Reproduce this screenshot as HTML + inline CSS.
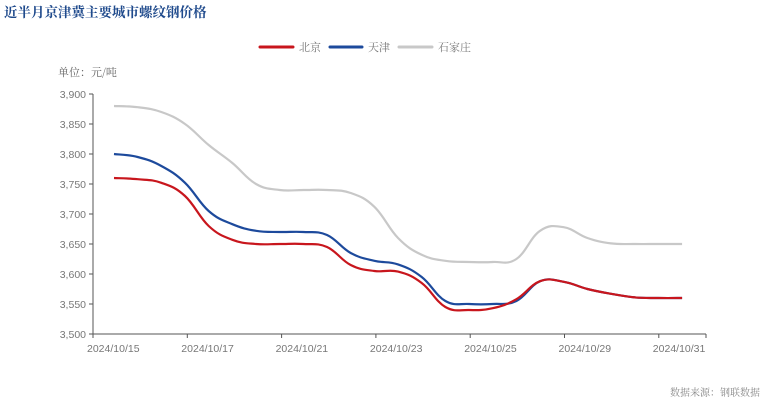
<!DOCTYPE html>
<html><head><meta charset="utf-8"><style>
html,body{margin:0;padding:0;background:#fff;}
svg{display:block;font-family:"Liberation Sans","Noto Serif CJK SC","Noto Sans CJK SC",sans-serif;}
</style></head><body>
<svg id="c" width="764" height="400" xmlns="http://www.w3.org/2000/svg">
<text x="4" y="17" font-size="13.5" font-weight="bold" fill="#1f4a8c" font-family="'Noto Serif CJK SC','Noto Sans CJK SC',serif">近半月京津冀主要城市螺纹钢价格</text>
<line x1="260" y1="47" x2="293" y2="47" stroke="#c8161d" stroke-width="3" stroke-linecap="round"/>
<text x="299" y="51" font-size="11" fill="#777" font-family="'Noto Serif CJK SC',serif">北京</text>
<line x1="330" y1="47" x2="362" y2="47" stroke="#1d4a9c" stroke-width="3" stroke-linecap="round"/>
<text x="368" y="51" font-size="11" fill="#777" font-family="'Noto Serif CJK SC',serif">天津</text>
<line x1="399" y1="47" x2="432" y2="47" stroke="#c8c8c8" stroke-width="3" stroke-linecap="round"/>
<text x="438" y="51" font-size="11" fill="#777" font-family="'Noto Serif CJK SC',serif">石家庄</text>
<text x="58" y="76" font-size="11" fill="#666" font-family="'Noto Serif CJK SC',serif">单位：元/吨</text>
<text x="760" y="396" font-size="10" fill="#888" text-anchor="end" font-family="'Noto Serif CJK SC',serif">数据来源：钢联数据</text>
<g id="ax"></g>
<g id="ln"></g>
</svg>
<script>
var ax=document.getElementById('ax'),ln=document.getElementById('ln'),NS='http://www.w3.org/2000/svg';
function el(t,a,txt){var e=document.createElementNS(NS,t);for(var k in a)e.setAttribute(k,a[k]);if(txt)e.textContent=txt;return e;}
function Y(v){return 334-(v-3500)*0.6;}
for(var v=3500;v<=3900;v+=50){var y=Y(v);
ax.appendChild(el('line',{x1:89,y1:y,x2:93,y2:y,stroke:'#555','stroke-width':1}));
ax.appendChild(el('text',{x:86,y:y+4,'font-size':10.5,fill:'#777','text-anchor':'end'},(v+'').replace(/(\d)(\d{3})$/,'$1,$2')));}
ax.appendChild(el('line',{x1:93,y1:94,x2:93,y2:334,stroke:'#555','stroke-width':1}));
ax.appendChild(el('line',{x1:93,y1:334,x2:706,y2:334,stroke:'#555','stroke-width':1}));
var lab=['2024/10/15','2024/10/17','2024/10/21','2024/10/23','2024/10/25','2024/10/29','2024/10/31'];
for(var i=0;i<7;i++){var x=93+i*94.3;
ax.appendChild(el('line',{x1:x,y1:334,x2:x,y2:338,stroke:'#555','stroke-width':1}));
ax.appendChild(el('text',{x:x-6,y:352,'font-size':10.5,fill:'#777'},lab[i]));}
ax.appendChild(el('line',{x1:706,y1:334,x2:706,y2:338,stroke:'#555','stroke-width':1}));
var S=[
['#c8c8c8',[3880,3878,3870,3850,3815,3785,3750,3740,3740,3740,3735,3712,3660,3632,3622,3620,3620,3625,3672,3678,3660,3651,3650,3650,3650]],
['#1d4a9c',[3800,3795,3780,3752,3705,3683,3672,3670,3670,3665,3635,3622,3616,3595,3555,3550,3550,3555,3588,3587,3575,3567,3561,3560,3560]],
['#c8161d',[3760,3758,3752,3730,3680,3657,3650,3650,3650,3645,3615,3605,3604,3585,3545,3540,3543,3558,3588,3587,3575,3567,3561,3560,3560]]];
S.forEach(function(s){var p=s[1].map(function(v,i){return [114+i*23.67,Y(v)];});
var d='M'+p[0][0]+','+p[0][1];
for(var i=0;i<p.length-1;i++){var p0=p[i-1]||p[i],p1=p[i],p2=p[i+1],p3=p[i+2]||p2,t=0.2;
d+=' C'+(p1[0]+(p2[0]-p0[0])*t)+','+(p1[1]+(p2[1]-p0[1])*t)+' '+(p2[0]-(p3[0]-p1[0])*t)+','+(p2[1]-(p3[1]-p1[1])*t)+' '+p2[0]+','+p2[1];}
ln.appendChild(el('path',{d:d,fill:'none',stroke:s[0],'stroke-width':2.2}));});
</script>
</body></html>
